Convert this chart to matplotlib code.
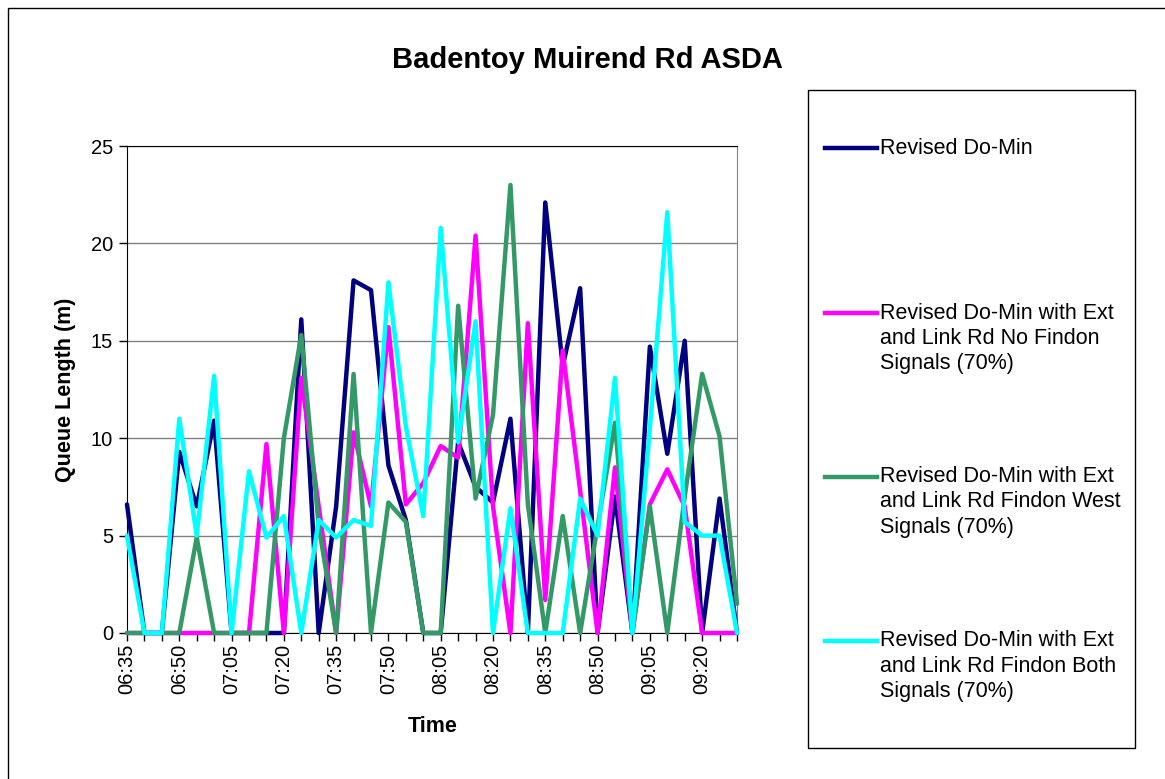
import matplotlib.pyplot as plt
from matplotlib.lines import Line2D
from matplotlib.patches import Rectangle

plt.rcParams['font.family'] = ['Liberation Sans', 'DejaVu Sans']

times = ["06:35", "06:40", "06:45", "06:50", "06:55", "07:00", "07:05", "07:10", "07:15",
         "07:20", "07:25", "07:30", "07:35", "07:40", "07:45", "07:50", "07:55", "08:00",
         "08:05", "08:10", "08:15", "08:20", "08:25", "08:30", "08:35", "08:40", "08:45",
         "08:50", "08:55", "09:00", "09:05", "09:10", "09:15", "09:20", "09:25", "09:30"]

do_min = [6.6, 0, 0, 9.3, 6.5, 10.9, 0, 0, 0, 0,
          16.1, 0, 6.5, 18.1, 17.6, 8.6, 5.8, 0, 0, 9.8,
          7.5, 6.7, 11.0, 0, 22.1, 13.7, 17.7, 0, 7.0, 0,
          14.7, 9.2, 15.0, 0, 6.9, 0]
no_findon = [0, 0, 0, 0, 0, 0, 0, 0, 9.7, 0,
             13.1, 6.5, 0, 10.3, 6.5, 15.7, 6.6, 7.7, 9.6, 9.0,
             20.4, 6.5, 0, 15.9, 1.7, 14.5, 7.3, 0, 8.5, 0,
             6.6, 8.4, 6.5, 0, 0, 0]
findon_west = [0, 0, 0, 0, 4.9, 0, 0, 0, 0, 10.0,
               15.3, 5.5, 0, 13.3, 0, 6.7, 5.7, 0, 0, 16.8,
               6.9, 11.2, 23.0, 6.6, 0, 6.0, 0, 5.5, 10.8, 0,
               6.5, 0, 7.0, 13.3, 10.1, 1.5]
findon_both = [5.0, 0, 0, 11.0, 5.0, 13.2, 0, 8.3, 4.9, 6.0,
               0, 5.8, 4.9, 5.8, 5.5, 18.0, 10.6, 6.0, 20.8, 9.8,
               16.0, 0, 6.4, 0, 0, 0, 6.9, 5.0, 13.1, 0,
               10.5, 21.6, 5.7, 5.0, 5.0, 0]

labels = [
    ["Revised Do-Min"],
    ["Revised Do-Min with Ext", "and Link Rd No Findon", "Signals (70%)"],
    ["Revised Do-Min with Ext", "and Link Rd Findon West", "Signals (70%)"],
    ["Revised Do-Min with Ext", "and Link Rd Findon Both", "Signals (70%)"],
]
colors = ["#000080", "#FF00FF", "#339966", "#00FFFF"]
series = [do_min, no_findon, findon_west, findon_both]

W, H = 1165, 779
fx = lambda x: x / W
fy = lambda y: 1 - y / H

fig = plt.figure(figsize=(W / 100, H / 100), dpi=100)
fig.patch.set_facecolor("white")

# chart border (only top/left fall inside the image)
fig.add_artist(Rectangle((fx(8), -0.05), 1.2, fy(8) + 0.05, transform=fig.transFigure,
                         fill=False, edgecolor="black", lw=1))

ax = fig.add_axes([fx(127), fy(633), fx(737) - fx(127), fy(146) - fy(633)])
x = list(range(len(times)))
for vals, c in zip(series, colors):
    ax.plot(x, vals, color=c, lw=3.2, clip_on=False, zorder=3,
            solid_joinstyle="round", solid_capstyle="round")

ax.set_xlim(0, len(times) - 1)
ax.set_ylim(0, 25)
ax.set_yticks(range(0, 26, 5))
ax.yaxis.grid(True, color="#808080", lw=1)
ax.set_axisbelow(True)
ax.set_xticks(x[::3])
ax.set_xticklabels(times[::3], rotation=90)
ax.set_xticks(x, minor=True)
ax.tick_params(axis="both", which="both", direction="out", length=6, width=1,
               labelsize=14.5, color="black")
ax.tick_params(axis="x", pad=2)
ax.tick_params(axis="y", pad=4)
ax.spines["left"].set_color("black")
ax.spines["bottom"].set_color("black")
ax.spines["top"].set_color("black")
ax.spines["right"].set_color("#808080")

fig.text(fx(587), fy(60), "Badentoy Muirend Rd ASDA", ha="center", va="center",
         fontsize=21, fontweight="bold")
fig.text(fx(66), fy(390), "Queue Length (m)", ha="center", va="center",
         rotation=90, fontsize=15.5, fontweight="bold")
fig.text(fx(433), fy(726), "Time", ha="center", va="center",
         fontsize=15.5, fontweight="bold")

# legend box drawn by hand so handles line up with the first text line
fig.add_artist(Rectangle((fx(808), fy(748)), fx(1135) - fx(808), fy(90) - fy(748),
                         transform=fig.transFigure, fill=False, edgecolor="black", lw=1))
entry_y = [148, 313, 477, 641]
for lines, c, y0 in zip(labels, colors, entry_y):
    fig.add_artist(Line2D([fx(825), fx(877)], [fy(y0), fy(y0)], color=c, lw=3.2,
                          transform=fig.transFigure))
    for k, line in enumerate(lines):
        fig.text(fx(880), fy(y0 + 25 * k), line, ha="left", va="center", fontsize=15.5)

fig.savefig("out.png", dpi=100)
